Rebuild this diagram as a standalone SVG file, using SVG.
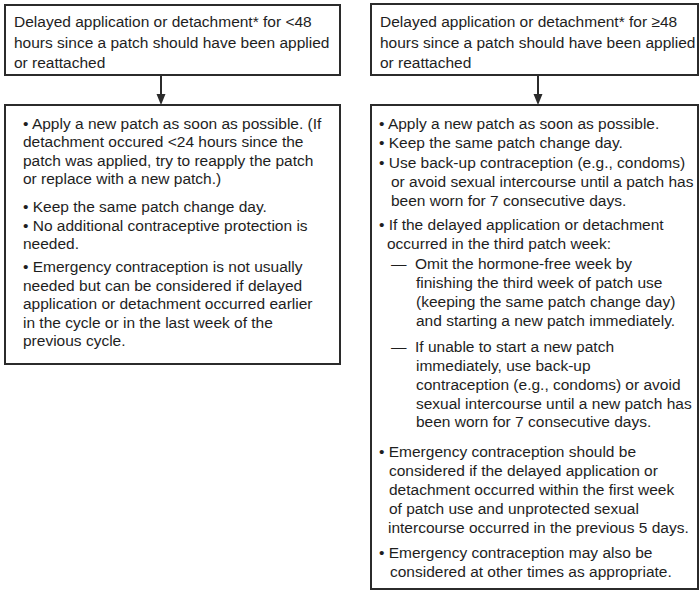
<svg xmlns="http://www.w3.org/2000/svg" width="700" height="591" viewBox="0 0 700 591">
<style>
.box{fill:#fff;stroke:#2b2b2b;stroke-width:2}
.t{font-family:"Liberation Sans",Arial,sans-serif;font-size:15.5px;fill:#1e1e1e}
.conn{stroke:#2b2b2b;stroke-width:2;fill:none}
</style>
<defs>
<marker id="ah" markerWidth="10" markerHeight="12" refX="5" refY="11" orient="auto-start-reverse" markerUnits="userSpaceOnUse" viewBox="0 0 10 12">
<path d="M0,0 L10,0 L5,12 Z" fill="#2b2b2b" transform="rotate(0)"/>
</marker>
</defs>
<rect width="700" height="591" fill="#fff"/>
<g id="connectors">
<line class="conn" x1="161" y1="75" x2="161" y2="95"/>
<path d="M156.5,94 L165.5,94 L161,105 Z" fill="#2b2b2b"/>
<line class="conn" x1="538" y1="75" x2="538" y2="95"/>
<path d="M533.5,94 L542.5,94 L538,105 Z" fill="#2b2b2b"/>
</g>
<g id="node-left-top">
<rect class="box" x="5" y="5" width="335" height="70"/>
<text class="t" x="14" y="27">Delayed application or detachment* for &lt;48</text>
<text class="t" x="14" y="47.5">hours since a patch should have been applied</text>
<text class="t" x="14" y="68">or reattached</text>
</g>
<g id="node-left-bottom">
<rect class="box" x="5" y="105" width="335" height="259"/>
<text class="t" x="23" y="128.5">• Apply a new patch as soon as possible. (If</text>
<text class="t" x="23" y="147">detachment occured &lt;24 hours since the</text>
<text class="t" x="23" y="165.5">patch was applied, try to reapply the patch</text>
<text class="t" x="23" y="184">or replace with a new patch.)</text>
<text class="t" x="23" y="212">• Keep the same patch change day.</text>
<text class="t" x="23" y="230.5">• No additional contraceptive protection is</text>
<text class="t" x="23" y="249">needed.</text>
<text class="t" x="23" y="272">• Emergency contraception is not usually</text>
<text class="t" x="23" y="290.5">needed but can be considered if delayed</text>
<text class="t" x="23" y="309">application or detachment occurred earlier</text>
<text class="t" x="23" y="327.5">in the cycle or in the last week of the</text>
<text class="t" x="23" y="346">previous cycle.</text>
</g>
<g id="node-right-top">
<rect class="box" x="371" y="4" width="327" height="71"/>
<text class="t" x="380" y="27">Delayed application or detachment* for ≥48</text>
<text class="t" x="380" y="47.5">hours since a patch should have been applied</text>
<text class="t" x="380" y="68">or reattached</text>
</g>
<g id="node-right-bottom">
<rect class="box" x="371" y="105" width="327" height="484"/>
<text class="t" x="379" y="129">• Apply a new patch as soon as possible.</text>
<text class="t" x="379" y="148">• Keep the same patch change day.</text>
<text class="t" x="379" y="167.5">• Use back-up contraception (e.g., condoms)</text>
<text class="t" x="391" y="186.5">or avoid sexual intercourse until a patch has</text>
<text class="t" x="391" y="205.5">been worn for 7 consecutive days.</text>
<text class="t" x="379" y="230">• If the delayed application or detachment</text>
<text class="t" x="387" y="249">occurred in the third patch week:</text>
<text class="t" x="391" y="268.5">—</text>
<text class="t" x="415" y="268.5">Omit the hormone-free week by</text>
<text class="t" x="416" y="287.5">finishing the third week of patch use</text>
<text class="t" x="416" y="306.5">(keeping the same patch change day)</text>
<text class="t" x="416" y="325.5">and starting a new patch immediately.</text>
<text class="t" x="391" y="351.5">—</text>
<text class="t" x="415" y="351.5">If unable to start a new patch</text>
<text class="t" x="416" y="370.5">immediately, use back-up</text>
<text class="t" x="416" y="389.5">contraception (e.g., condoms) or avoid</text>
<text class="t" x="416" y="408.5">sexual intercourse until a new patch has</text>
<text class="t" x="416" y="427">been worn for 7 consecutive days.</text>
<text class="t" x="379" y="456.5">• Emergency contraception should be</text>
<text class="t" x="389" y="475.5">considered if the delayed application or</text>
<text class="t" x="389" y="494.5">detachment occurred within the first week</text>
<text class="t" x="389" y="513.5">of patch use and unprotected sexual</text>
<text class="t" x="388" y="532.5">intercourse occurred in the previous 5 days.</text>
<text class="t" x="379" y="558">• Emergency contraception may also be</text>
<text class="t" x="390" y="577">considered at other times as appropriate.</text>
</g>
</svg>
